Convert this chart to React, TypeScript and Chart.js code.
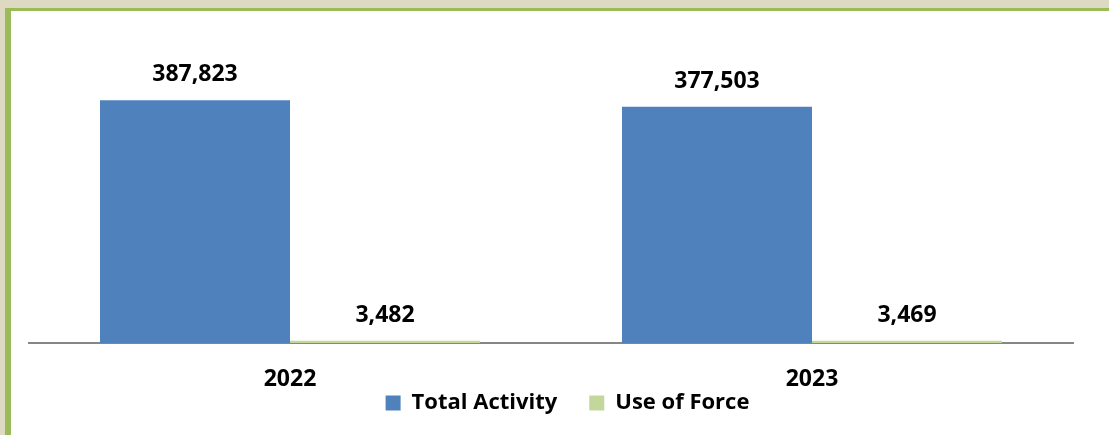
import { useEffect, useRef } from "react";
import { Chart, registerables } from "chart.js";

Chart.register(...registerables);

const categories = ["2022", "2023"];
const seriesNames = ["Total Activity", "Use of Force"];
const totalActivity = [387823, 377503];
const useOfForce = [3482, 3469];

const FONT = "'Open Sans', sans-serif";

export default function App() {
  const ref = useRef<HTMLCanvasElement>(null);

  useEffect(() => {
    document.body.style.margin = "0";
    const valueLabels = {
      id: "valueLabels",
      afterDatasetsDraw(chart: any) {
        const ctx = chart.ctx;
        ctx.save();
        ctx.font = `bold 23px ${FONT}`;
        ctx.fillStyle = "#000";
        ctx.textAlign = "center";
        ctx.textBaseline = "alphabetic";
        chart.data.datasets.forEach((ds: any, i: number) => {
          chart.getDatasetMeta(i).data.forEach((el: any, j: number) => {
            ctx.fillText(Number(ds.data[j]).toLocaleString("en-US"), el.x, el.y - 19);
          });
        });
        ctx.restore();
      },
    };

    const chart = new Chart(ref.current as HTMLCanvasElement, {
      type: "bar",
      data: {
        labels: categories,
        datasets: [
          {
            label: seriesNames[0],
            data: totalActivity,
            backgroundColor: "#4f81bd",
            borderWidth: 0,
            categoryPercentage: 0.728,
            barPercentage: 1,
          },
          {
            label: seriesNames[1],
            data: useOfForce,
            backgroundColor: "#c3d69b",
            borderWidth: 0,
            categoryPercentage: 0.728,
            barPercentage: 1,
          },
        ],
      },
      options: {
        responsive: false,
        animation: false,
        layout: { padding: { top: 19, left: 18, right: 3, bottom: 0 } },
        plugins: {
          legend: {
            position: "bottom",
            align: "center",
            labels: {
              boxWidth: 15,
              boxHeight: 15,
              padding: 32,
              color: "#000",
              font: { family: FONT, size: 22, weight: "bold" },
            },
          },
          tooltip: { enabled: false },
        },
        scales: {
          x: {
            grid: { display: false, drawTicks: false },
            border: { display: true, color: "#868686", width: 2 },
            ticks: {
              color: "#000",
              mirror: true,
              padding: -50,
              font: { family: FONT, size: 23, weight: "bold" },
            },
            afterFit(scale: any) {
              scale.height = 17;
            },
          },
          y: {
            position: "right",
            min: 0,
            max: 500000,
            display: true,
            grid: { display: false, drawTicks: false },
            border: { display: false },
            ticks: { display: false },
            afterFit(scale: any) {
              scale.width = 33;
            },
          },
        },
      },
      plugins: [valueLabels],
    });
    return () => chart.destroy();
  }, []);

  return (
    <div
      style={{
        position: "absolute",
        left: 0,
        top: 0,
        width: 1109,
        height: 435,
        background: "#ddd9c3",
        overflow: "hidden",
      }}
    >
      <div
        style={{
          position: "absolute",
          left: 5,
          top: 8,
          right: 0,
          bottom: 0,
          background: "#9bbb59",
        }}
      >
        <div
          style={{
            position: "absolute",
            left: 6,
            top: 3,
            right: 0,
            bottom: 0,
            background: "#ffffff",
            overflow: "hidden",
          }}
        >
          <canvas
            ref={ref}
            width={1098}
            height={413}
            style={{ display: "block", width: 1098, height: 413 }}
          />
        </div>
      </div>
    </div>
  );
}
